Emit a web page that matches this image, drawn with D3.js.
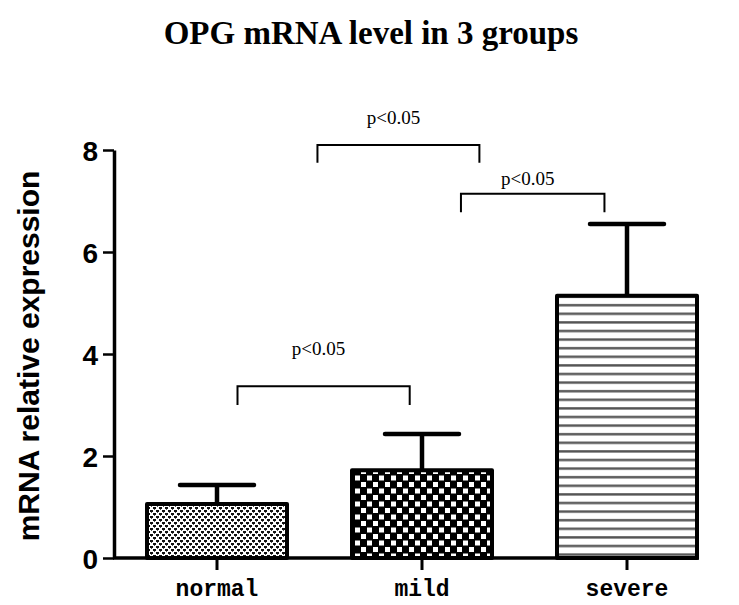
<!DOCTYPE html>
<html><head><meta charset="utf-8">
<script src="https://cdn.jsdelivr.net/npm/d3@7"></script>
<style>html,body{margin:0;padding:0;background:#fff;}svg{display:block;}</style>
</head><body>
<svg id="chart" width="739" height="605"></svg>
<script>
const title = "OPG mRNA level in 3 groups";
const yLabel = "mRNA relative expression";
const groups = ["normal", "mild", "severe"];
const means = [1.06, 1.72, 5.14];
const sds = [0.37, 0.71, 1.41];
const yTicks = [0, 2, 4, 6, 8];
// significance brackets: from/to group, bracket top level, leg bottom level, label level
const bracketFrom = ["normal", "mild", "normal"];
const bracketTo = ["mild", "severe", "mild"];
const bracketTop = [8.10, 7.14, 3.37];
const bracketBottom = [7.75, 6.78, 3.00];
const bracketLabelLevel = [8.51, 7.31, 3.98];
const bracketLabels = ["p<0.05", "p<0.05", "p<0.05"];

const svg = d3.select("#chart");
const defs = svg.append("defs");

// normal: fine dotted texture
const p1 = defs.append("pattern").attr("id","pNormal").attr("patternUnits","userSpaceOnUse")
  .attr("width",6).attr("height",6);
p1.append("rect").attr("width",6).attr("height",6).attr("fill","#fff");
p1.append("rect").attr("x",0).attr("y",0).attr("width",3).attr("height",2).attr("fill","#111");
p1.append("rect").attr("x",3).attr("y",3).attr("width",3).attr("height",2).attr("fill","#111");
p1.append("rect").attr("x",1).attr("y",2).attr("width",1).attr("height",1).attr("fill","#555");
p1.append("rect").attr("x",4).attr("y",5).attr("width",1).attr("height",1).attr("fill","#555");

// mild: checkerboard
const p2 = defs.append("pattern").attr("id","pMild").attr("patternUnits","userSpaceOnUse")
  .attr("width",12).attr("height",13);
p2.append("rect").attr("width",12).attr("height",13).attr("fill","#000");
p2.append("rect").attr("x",1).attr("y",1).attr("width",5).attr("height",5).attr("fill","#fff");
p2.append("rect").attr("x",7).attr("y",7.5).attr("width",5).attr("height",5).attr("fill","#fff");

// severe: horizontal lines
const p3 = defs.append("pattern").attr("id","pSevere").attr("patternUnits","userSpaceOnUse")
  .attr("width",10).attr("height",8.6);
p3.append("rect").attr("width",10).attr("height",8.6).attr("fill","#fff");
p3.append("rect").attr("x",0).attr("y",3).attr("width",10).attr("height",2.4).attr("fill","#555");

const fills = {normal:"url(#pNormal)", mild:"url(#pMild)", severe:"url(#pSevere)"};

const y = d3.scaleLinear().domain([0, 8]).range([558, 150]);
const x = d3.scaleBand().domain(groups).range([147, 697]).paddingInner(65/205).paddingOuter(0);
const cx = g => x(g) + x.bandwidth()/2;
const step = x.step();

// Title
svg.append("text").attr("x", 371).attr("y", 44).attr("text-anchor","middle")
  .attr("font-family","'Liberation Serif','Times New Roman',serif").attr("font-weight","bold")
  .attr("font-size", 33).text(title);

// Y axis
const yAxis = svg.append("g").attr("transform","translate(114,0)")
  .call(d3.axisLeft(y).tickValues(yTicks).tickSize(11).tickSizeOuter(0).tickPadding(5));
yAxis.select(".domain").attr("stroke-width",3.5);
yAxis.selectAll(".tick line").attr("stroke-width",2.5);
yAxis.selectAll(".tick text").attr("font-family","'Liberation Sans',Arial,sans-serif")
  .attr("font-weight","bold").attr("font-size",28).attr("fill","#000").attr("dy","0.36em");

svg.append("text").attr("transform","translate(39,356) rotate(-90)").attr("text-anchor","middle")
  .attr("font-family","'Liberation Sans',Arial,sans-serif").attr("font-weight","bold")
  .attr("font-size",30).text(yLabel);

// Bars
const data = groups.map((g,i) => ({g, m: means[i], s: sds[i]}));
svg.append("g").selectAll("rect").data(data).join("rect")
  .attr("x", d => x(d.g)).attr("y", d => y(d.m))
  .attr("width", x.bandwidth()).attr("height", d => y(0) - y(d.m))
  .attr("fill", d => fills[d.g]).attr("stroke","#000").attr("stroke-width",4)
  .attr("stroke-linejoin","round");

// Error bars
const eb = svg.append("g").attr("stroke","#000").attr("stroke-width",4.5);
eb.selectAll("line.v").data(data).join("line").attr("class","v")
  .attr("x1", d => cx(d.g)).attr("x2", d => cx(d.g))
  .attr("y1", d => y(d.m)).attr("y2", d => y(d.m + d.s));
eb.selectAll("line.h").data(data).join("line").attr("class","h")
  .attr("x1", d => cx(d.g) - 37).attr("x2", d => cx(d.g) + 37)
  .attr("y1", d => y(d.m + d.s)).attr("y2", d => y(d.m + d.s)).attr("stroke-linecap","round");

// X axis
svg.append("line").attr("x1",113).attr("x2",699).attr("y1",y(0)).attr("y2",y(0))
  .attr("stroke","#000").attr("stroke-width",3.5);
const xAxis = svg.append("g").attr("transform",`translate(0,${y(0)})`)
  .call(d3.axisBottom(x).tickSize(12).tickSizeOuter(0).tickPadding(10));
xAxis.select(".domain").remove();
xAxis.selectAll(".tick line").attr("stroke-width",3);
xAxis.selectAll(".tick text").attr("font-family","'Liberation Mono','Courier New',monospace")
  .attr("font-weight","bold").attr("font-size",23).attr("fill","#000");

// Brackets (ends offset within the slot, as in the original)
const fromOffset = [0.49, 0.19, 0.10];
const toOffset = [0.28, -0.11, -0.06];
const br = svg.append("g");
bracketLabels.forEach((lab, i) => {
  const x1 = cx(bracketFrom[i]) + fromOffset[i]*step;
  const x2 = cx(bracketTo[i]) + toOffset[i]*step;
  br.append("path")
    .attr("d", `M${x1},${y(bracketBottom[i])}V${y(bracketTop[i])}H${x2}V${y(bracketBottom[i])}`)
    .attr("fill","none").attr("stroke","#000").attr("stroke-width",2);
  br.append("text").attr("x",(x1+x2)/2 - 5).attr("y", y(bracketLabelLevel[i]))
    .attr("text-anchor","middle").attr("font-family","'Liberation Serif','Times New Roman',serif")
    .attr("font-size",19).text(lab);
});
</script>
</body></html>
